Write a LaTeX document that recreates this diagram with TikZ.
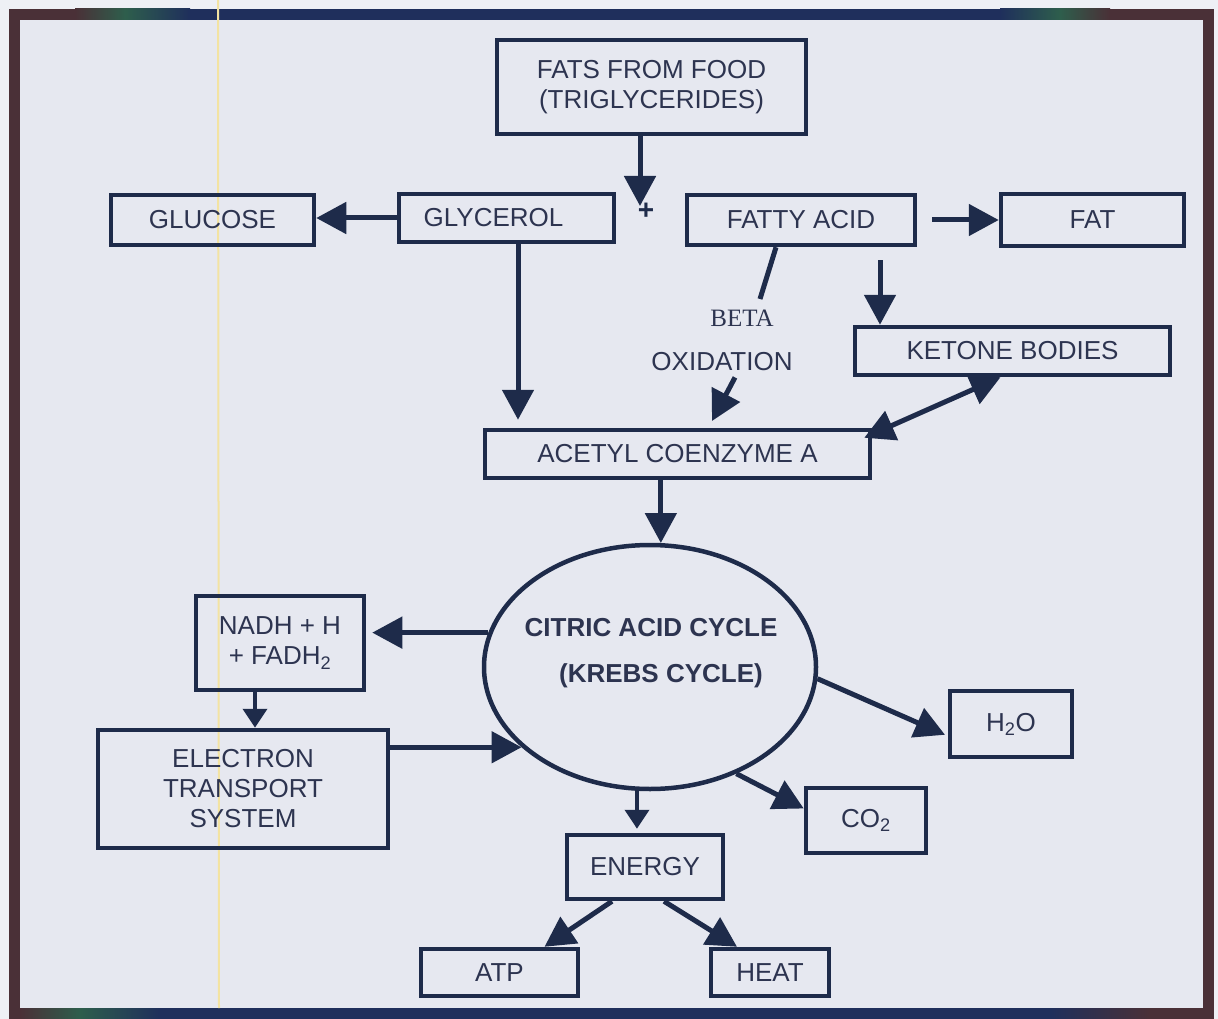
\documentclass[tikz,border=0pt]{standalone}
\usepackage{fontspec}
\setmainfont{Liberation Sans}
\newfontfamily\betafont{Liberation Serif}
\usetikzlibrary{arrows.meta,shapes.geometric}

\definecolor{ink}{HTML}{1E2B4A}
\definecolor{txt}{HTML}{2D3450}
\definecolor{paper}{HTML}{E6E8F0}
\definecolor{pagebg}{HTML}{EEF0F5}
\definecolor{frbrown}{HTML}{4A3037}
\definecolor{frgreen}{HTML}{2E5E4C}
\definecolor{frnavy}{HTML}{1F2F5C}
\definecolor{scanline}{HTML}{F3E3A2}

\begin{document}
\begin{tikzpicture}[x=1pt,y=-1pt,
  box/.style={draw=ink, line width=4.5pt, rectangle, inner sep=0pt, text=txt,
    font=\fontsize{26}{30}\selectfont, align=center},
  lbl/.style={text=txt, font=\fontsize{26}{30}\selectfont, inner sep=0pt, align=center},
  arr/.style={draw=ink, line width=5pt, -{Triangle[length=30pt,width=31pt]}},
  sarr/.style={draw=ink, line width=4pt, -{Triangle[length=19pt,width=24pt]}},
  link/.style={draw=ink, line width=5pt},
]
\useasboundingbox (0,0) rectangle (1218,1019);

% page, marble panel and frame
\fill[pagebg] (0,0) rectangle (1218,1019);
\fill[paper] (14,15) rectangle (1208,1013);
\draw[frbrown, line width=11pt] (14,14.5) rectangle (1208.5,1013.5);
% coloured top band
\shade[left color=frbrown, right color=frgreen] (75,9) rectangle (125,20);
\shade[left color=frgreen, right color=frnavy] (125,9) rectangle (190,20);
\fill[frnavy] (190,9) rectangle (1000,20);
\shade[left color=frnavy, right color=frgreen] (1000,9) rectangle (1060,20);
\shade[left color=frgreen, right color=frbrown] (1060,9) rectangle (1110,20);
% coloured bottom band
\shade[left color=frbrown, right color=frgreen] (20,1008) rectangle (80,1019);
\shade[left color=frgreen, right color=frnavy] (80,1008) rectangle (160,1019);
\fill[frnavy] (160,1008) rectangle (1050,1019);
\shade[left color=frnavy, right color=frbrown] (1050,1008) rectangle (1150,1019);
% thin vertical line across the panel
\draw[scanline, line width=2pt] (218,0) -- (219,1008);

% boxes
\node[box, minimum width=309pt, minimum height=94pt] (fats) at (651.5,87)
  {FATS FROM FOOD\\(TRIGLYCERIDES)};
\node[box, minimum width=203pt, minimum height=50pt] (glucose) at (212.5,220) {GLUCOSE};
\node[box, minimum width=215pt, minimum height=48pt] (glycerol) at (506.5,218) {GLYCEROL\hspace*{26pt}};
\node[box, minimum width=228pt, minimum height=50pt] (fatty) at (801,220) {FATTY ACID};
\node[box, minimum width=183pt, minimum height=52pt] (fat) at (1092.5,220) {FAT};
\node[box, minimum width=315pt, minimum height=48pt] (ketone) at (1012.5,351) {KETONE BODIES};
\node[box, minimum width=385pt, minimum height=48pt] (acetyl) at (677.5,454) {ACETYL COENZYME A};
\node[draw=ink, line width=4.5pt, ellipse, inner sep=0pt,
  minimum width=332pt, minimum height=244pt] (cyc) at (650,667) {};
\node[lbl, font=\bfseries\fontsize{26}{46}\selectfont] (cyctext) at (651,653)
  {CITRIC ACID CYCLE\\\hspace*{20pt}(KREBS CYCLE)};
\node[box, minimum width=168pt, minimum height=94pt] (nadh) at (280,643)
  {NADH + H\\+ FADH\textsubscript{2}};
\node[box, minimum width=290pt, minimum height=118pt] (ets) at (243,789)
  {ELECTRON\\TRANSPORT\\SYSTEM};
\node[box, minimum width=122pt, minimum height=66pt] (h2o) at (1011,724) {H\textsubscript{2}O};
\node[box, minimum width=120pt, minimum height=65pt] (co2) at (866,820.5) {CO\textsubscript{2}};
\node[box, minimum width=156pt, minimum height=64pt] (energy) at (645,867) {ENERGY};
\node[box, minimum width=157pt, minimum height=47pt] (atp) at (499.5,972.5) {ATP};
\node[box, minimum width=118pt, minimum height=47pt] (heat) at (770,972.5) {HEAT};

% free labels
\node[text=ink, font=\bfseries\fontsize{28}{28}\selectfont, inner sep=0pt] (plus) at (646,211) {+};
\node[text=txt, font=\betafont\fontsize{25}{25}\selectfont, inner sep=0pt] (beta) at (742,318) {BETA};
\node[lbl] (oxid) at (722,362) {OXIDATION};
\coordinate (split) at (640,206);
\coordinate (betaend) at (760,299);
\coordinate (oxtip) at (712,421);

% connectors
\draw[arr] ([xshift=-11.5pt]fats.south) -- (split);
\draw[arr] (glycerol.west) -- (glucose.east |- glycerol.west);
\draw[arr, shorten >=8pt] ([xshift=11.5pt]glycerol.south) -- ([xshift=11.5pt]glycerol.south |- acetyl.north);
\draw[link] ([xshift=-25pt]fatty.south) -- (betaend);
\draw[arr] ([xshift=13pt,yshift=-6pt]oxid.south) -- (oxtip);
\draw[arr] ([xshift=15pt]fatty.east) -- (fat.west);
\draw[arr] ([xshift=79pt,yshift=-13pt]fatty.south) -- ([xshift=79pt]fatty.south |- ketone.north);
\draw[link, {Triangle[length=30pt,width=31pt]}-{Triangle[length=30pt,width=31pt]}]
  ([xshift=-8pt,yshift=-10pt]acetyl.north east) -- ([xshift=-12pt]ketone.south);
\draw[arr] (acetyl.south -| cyc.85) -- (cyc.85);
\draw[arr, shorten >=6pt] (cyc.168) -- (nadh.east |- cyc.168);
\draw[sarr] ([xshift=-25pt]nadh.south) -- ([xshift=-25pt]nadh.south |- ets.north);
\draw[arr] (ets.east |- cyc.212) -- (cyc.212);
\draw[arr, shorten >=3pt] (cyc.356) -- ([yshift=-12pt]h2o.west);
\draw[arr] (cyc.309) -- ([yshift=12pt]co2.west);
\draw[sarr, shorten >=4pt] (cyc.264) -- (cyc.264 |- energy.north);
\draw[arr] ([xshift=-33pt]energy.south) -- ([xshift=45pt]atp.north);
\draw[arr] ([xshift=19pt]energy.south) -- ([xshift=-33pt]heat.north);
\end{tikzpicture}
\end{document}
